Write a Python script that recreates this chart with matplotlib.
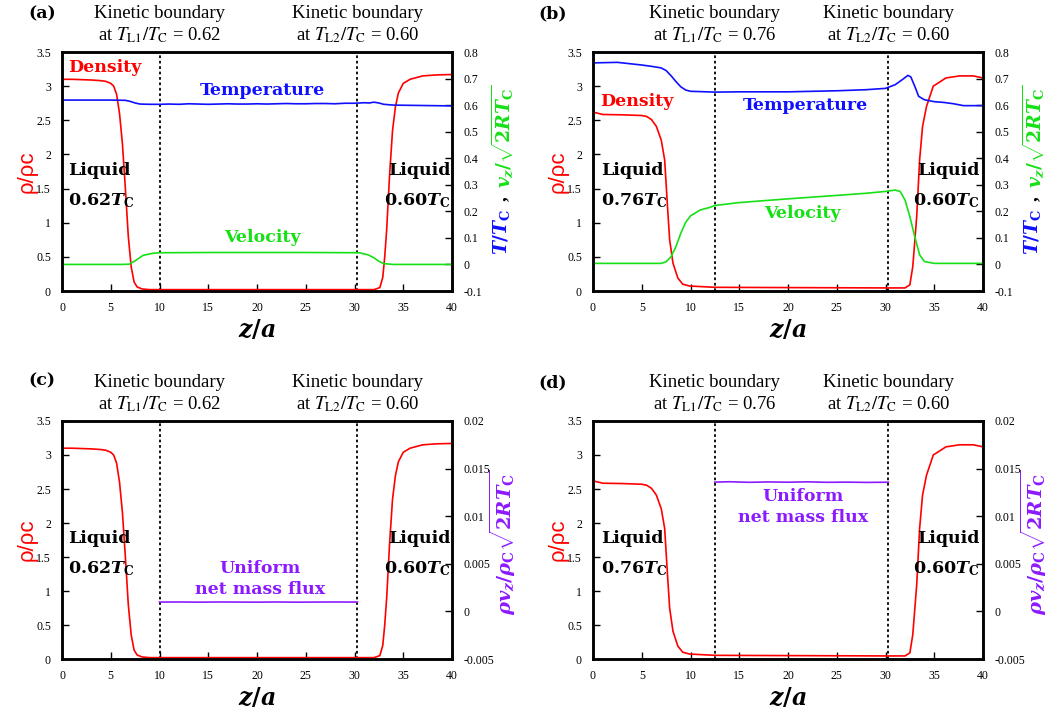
import numpy as np
import matplotlib
matplotlib.use('Agg')
import matplotlib.pyplot as plt
from matplotlib.ticker import FuncFormatter, MultipleLocator

plt.rcParams['font.family'] = ['Liberation Serif', 'DejaVu Serif']
plt.rcParams['mathtext.fontset'] = 'custom'
plt.rcParams['mathtext.it'] = 'DejaVu Serif:italic:bold'
plt.rcParams['mathtext.rm'] = 'DejaVu Serif:bold'
plt.rcParams['mathtext.bf'] = 'DejaVu Serif:bold'

RED = '#ff0000'
BLUE = '#1010ff'
GREEN = '#16e016'
PURPLE = '#8c1aff'

# density, liquid at 0.62 Tc | 0.60 Tc  (panels a, c)
z_rho1 = [0, 1, 2, 3, 4, 4.5, 5, 5.3, 5.6, 5.9, 6.2, 6.5, 6.8, 7.1, 7.4, 7.7, 8.2, 9,
          15, 20, 25, 30, 32, 32.6, 32.9, 33.1, 33.3, 33.6, 33.9, 34.2, 34.5, 35,
          35.7, 37, 38.5, 40]
rho1 = [3.10, 3.10, 3.095, 3.09, 3.08, 3.07, 3.04, 3.0, 2.88, 2.6, 2.15, 1.5, 0.8, 0.35,
        0.13, 0.06, 0.03, 0.02, 0.02, 0.02, 0.02, 0.02, 0.02, 0.05, 0.2, 0.5, 0.9, 1.7,
        2.35, 2.7, 2.9, 3.04, 3.1, 3.15, 3.165, 3.17]

# density, liquid at 0.76 Tc | 0.60 Tc  (panels b, d)
z_rho2 = [0, 1, 3, 5, 5.5, 6, 6.5, 7, 7.35, 7.6, 7.86, 8.2, 8.7, 9.2, 9.9, 12.5, 20,
          30, 32, 32.5, 32.8, 33.2, 33.5, 33.8, 34.2, 34.9, 36.2, 37.6, 39, 40]
rho2 = [2.62, 2.585, 2.58, 2.57, 2.556, 2.51, 2.41, 2.21, 1.92, 1.33, 0.75, 0.41, 0.19,
        0.10, 0.073, 0.054, 0.05, 0.045, 0.045, 0.09, 0.36, 1.09, 1.92, 2.41, 2.70, 3.0,
        3.12, 3.15, 3.15, 3.12]

# temperature and velocity, panel a
z_T1 = [0, 3, 5, 6.5, 7, 7.5, 8, 9, 10, 11, 12, 13, 14, 15, 16, 17, 18, 19, 20, 21, 22,
        23, 24, 25, 26, 27, 28, 29, 30, 31, 31.5, 32, 32.5, 33, 34, 36, 40]
T1 = [0.619, 0.619, 0.619, 0.618, 0.614, 0.608, 0.604, 0.603, 0.603, 0.604, 0.603,
      0.605, 0.604, 0.603, 0.604, 0.605, 0.604, 0.604, 0.605, 0.604, 0.605, 0.606, 0.605,
      0.605, 0.606, 0.606, 0.605, 0.607, 0.607, 0.609, 0.608, 0.611, 0.608, 0.603, 0.600,
      0.599, 0.597]
z_v1 = [0, 6, 6.9, 7.6, 8.3, 9.3, 10, 15, 20, 25, 30.5, 31.4, 32, 32.5, 33, 34, 40]
v1 = [0, 0, 0.001, 0.016, 0.034, 0.042, 0.044, 0.045, 0.045, 0.045, 0.044, 0.036,
      0.025, 0.012, 0.003, 0, 0]

# temperature and velocity, panel b
z_T2 = [0, 2.5, 5, 6, 7, 7.5, 8, 8.5, 9, 9.5, 10, 12.5, 15, 20, 25, 28, 30, 31, 31.8,
        32.3, 32.6, 33, 33.4, 34, 35, 36, 37, 38, 40]
T2 = [0.759, 0.761, 0.751, 0.746, 0.74, 0.73, 0.711, 0.689, 0.669, 0.657, 0.652, 0.649,
      0.650, 0.650, 0.654, 0.658, 0.663, 0.677, 0.698, 0.712, 0.706, 0.671, 0.633, 0.62,
      0.613, 0.61, 0.605, 0.598, 0.598]
z_v2 = [0, 7, 7.5, 8, 8.5, 9, 9.5, 10, 11, 12, 12.5, 15, 20, 25, 28, 30, 31, 31.5, 32,
        32.5, 33, 33.5, 34, 35, 40]
v2 = [0.004, 0.004, 0.01, 0.029, 0.067, 0.117, 0.158, 0.183, 0.205, 0.215, 0.222, 0.233,
      0.247, 0.26, 0.268, 0.275, 0.28, 0.275, 0.243, 0.18, 0.105, 0.036, 0.011, 0.004,
      0.004]

# net mass flux between kinetic boundaries
z_f1 = [10, 12, 14, 16, 18, 20, 22, 24, 26, 28, 30.3]
f1 = [0.00098, 0.00099, 0.00097, 0.00099, 0.00098, 0.00097, 0.00099, 0.00097, 0.00098,
      0.00099, 0.00098]
z_f2 = [12.5, 14, 16, 18, 20, 22, 24, 26, 28, 30.3]
f2 = [0.01358, 0.01362, 0.01356, 0.0136, 0.01357, 0.01361, 0.01356, 0.01358, 0.01355,
      0.01357]

boundaries = {'a': (10.0, 30.3), 'b': (12.5, 30.3)}
T_liquid = {'a': ('0.62', '0.60'), 'b': ('0.76', '0.60')}

W, H = 1052, 713
fig = plt.figure(figsize=(W / 100, H / 100), dpi=100)


def fmt(v, pos):
    s = '%g' % round(v, 6)
    return '0' if s == '-0' else s


def make_axes(left, top, right, bottom):
    return fig.add_axes([left / W, 1 - bottom / H, (right - left) / W, (bottom - top) / H])


def base_panel(ax, case, z_rho, rho):
    ax.plot(z_rho, rho, color=RED, lw=1.2, zorder=3)
    ax.set_xlim(0, 40)
    ax.set_ylim(0, 3.5)
    ax.xaxis.set_major_locator(MultipleLocator(5))
    ax.yaxis.set_major_locator(MultipleLocator(0.5))
    ax.xaxis.set_major_formatter(FuncFormatter(fmt))
    ax.yaxis.set_major_formatter(FuncFormatter(fmt))
    ax.tick_params(direction='in', length=5, width=1, labelsize=8.5, pad=8)
    for s in ax.spines.values():
        s.set_linewidth(1.8)
    zb1, zb2 = boundaries[case]
    for zb in (zb1, zb2):
        ax.axvline(zb, color='black', ls=(0, (1.5, 1.5)), lw=1.3, zorder=2)
    tr = ax.get_xaxis_transform()
    t1, t2 = T_liquid[case]
    ax.text(zb1, 1.16, 'Kinetic boundary', transform=tr, ha='center', va='center', fontsize=13.5)
    ax.text(zb1, 1.07, r'at $T_{\rm L1}/T_{\rm C}$ = ' + t1, transform=tr, ha='center',
            va='center', fontsize=13.5, math_fontfamily='stix')
    ax.text(zb2, 1.16, 'Kinetic boundary', transform=tr, ha='center', va='center', fontsize=13.5)
    ax.text(zb2, 1.07, r'at $T_{\rm L2}/T_{\rm C}$ = ' + t2, transform=tr, ha='center',
            va='center', fontsize=13.5, math_fontfamily='stix')
    lx = 0.6 if case == 'a' else 0.8
    rx = 39.8 if case == 'a' else 39.6
    bold = dict(fontsize=12.5, fontweight='bold', family='DejaVu Serif', zorder=5)
    ax.text(lx, 1.77, 'Liquid', ha='left', va='center', **bold)
    ax.text(lx, 1.33, t1 + r'$T_{\rm C}$', ha='left', va='center', **bold)
    ax.text(rx, 1.77, 'Liquid', ha='right', va='center', **bold)
    ax.text(rx, 1.33, t2 + r'$T_{\rm C}$', ha='right', va='center', **bold)
    ax.text(-0.09, 0.5, 'ρ/ρc', transform=ax.transAxes, rotation=90, ha='center',
            va='center', fontsize=16, color=RED, family='Liberation Sans')
    ax.set_xlabel(r'$z/a$', fontsize=17, labelpad=3)


def right_axis(ax, lo, hi, step):
    ax2 = ax.twinx()
    ax2.set_ylim(lo, hi)
    ax2.yaxis.set_major_locator(MultipleLocator(step))
    ax2.yaxis.set_major_formatter(FuncFormatter(fmt))
    ax2.tick_params(direction='in', length=5, width=1, labelsize=8.5, pad=8)
    for s in ax2.spines.values():
        s.set_linewidth(1.8)
    return ax2


def tv_panel(ax, case, z_rho, rho, z_T, T, z_v, v, texts):
    base_panel(ax, case, z_rho, rho)
    ax2 = right_axis(ax, -0.1, 0.8, 0.1)
    ax2.plot(z_T, T, color=BLUE, lw=1.2)
    ax2.plot(z_v, v, color=GREEN, lw=1.2)
    bold = dict(fontsize=12.5, fontweight='bold', family='DejaVu Serif')
    (dx, dy), (tx, ty), (vx, vy) = texts
    ax.text(dx, dy, 'Density', color=RED, ha='left', va='center', **bold)
    ax.text(tx, ty, 'Temperature', color=BLUE, ha='center', va='center', **bold)
    ax.text(vx, vy, 'Velocity', color=GREEN, ha='center', va='center', **bold)
    kw = dict(transform=ax.transAxes, rotation=90, rotation_mode='anchor', ha='left',
              va='center', fontsize=13.5)
    ax.text(1.128, 0.15, r'$T/T_{\rm C}$', color=BLUE, **kw)
    ax.text(1.128, 0.375, ',', color='black', fontweight='bold', **kw)
    ax.text(1.128, 0.43, r'$v_z/\sqrt{2RT_{\rm C}}$', color=GREEN, **kw)


def flux_panel(ax, case, z_rho, rho, z_f, f, tpos):
    base_panel(ax, case, z_rho, rho)
    ax2 = right_axis(ax, -0.005, 0.02, 0.005)
    ax2.plot(z_f, f, color=PURPLE, lw=1.2)
    ax.text(tpos[0], tpos[1], 'Uniform\nnet mass flux', color=PURPLE, ha='center',
            va='center', fontsize=12.5, fontweight='bold', family='DejaVu Serif',
            linespacing=1.3)
    ax.text(1.13, 0.185, r'$\rho v_z/\rho_{\rm C}\sqrt{2RT_{\rm C}}$', color=PURPLE,
            transform=ax.transAxes, rotation=90, rotation_mode='anchor', ha='left',
            va='center', fontsize=14)


ax_a = make_axes(62, 52, 452, 291)
tv_panel(ax_a, 'a', z_rho1, rho1, z_T1, T1, z_v1, v1,
         [(0.6, 3.28), (20.6, 2.93), (20.6, 0.78)])
ax_b = make_axes(593, 52, 983, 291)
tv_panel(ax_b, 'b', z_rho2, rho2, z_T2, T2, z_v2, v2,
         [(0.7, 2.77), (21.8, 2.72), (21.5, 1.14)])
ax_c = make_axes(62, 421, 452, 659)
flux_panel(ax_c, 'a', z_rho1, rho1, z_f1, f1, (20.3, 1.17))
ax_d = make_axes(593, 421, 983, 659)
flux_panel(ax_d, 'b', z_rho2, rho2, z_f2, f2, (21.5, 2.23))

for lab, x, y in [('(a)', 42, 14), ('(b)', 553, 14), ('(c)', 42, 381), ('(d)', 553, 383)]:
    fig.text(x / W, 1 - y / H, lab, ha='center', va='center', fontsize=12.5,
             fontweight='bold', family='DejaVu Serif')

fig.savefig('out.png', dpi=100)
